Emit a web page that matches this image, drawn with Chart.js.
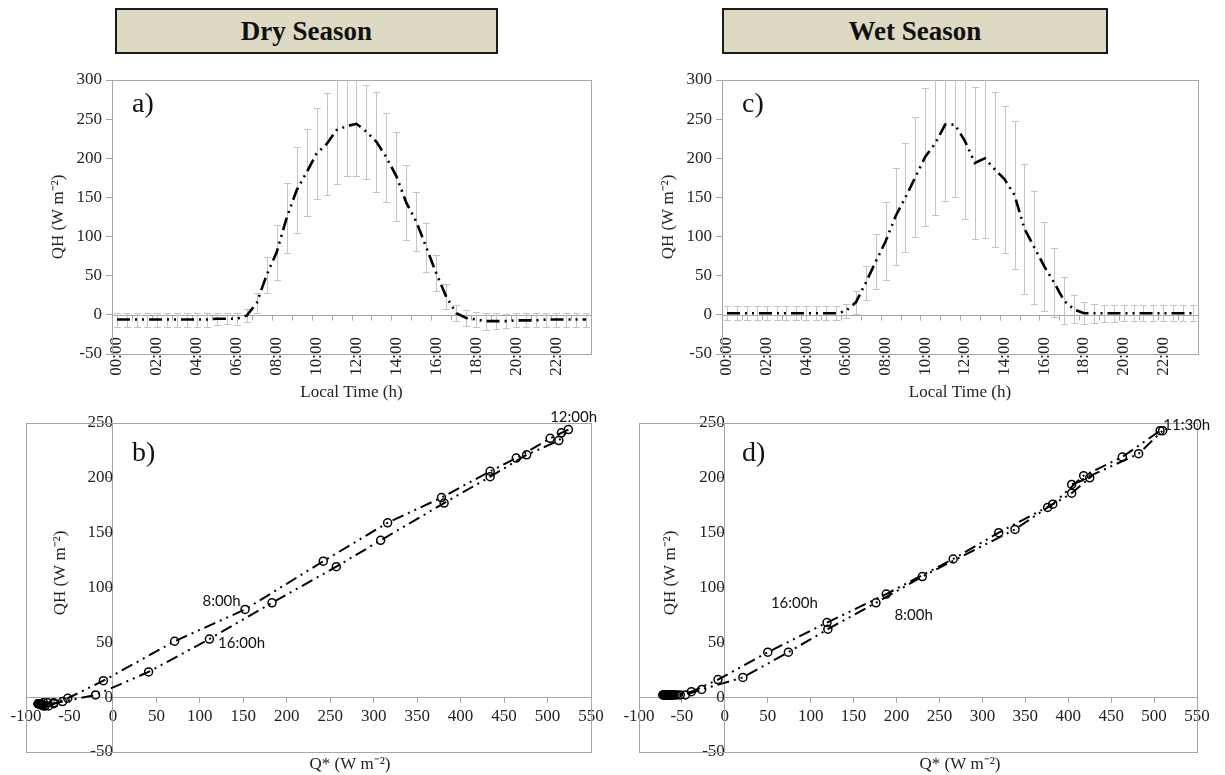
<!DOCTYPE html>
<html>
<head>
<meta charset="utf-8">
<script src="https://cdn.jsdelivr.net/npm/chart.js@4.4.1/dist/chart.umd.min.js"></script>
<style>
body{margin:0;background:#fff;width:1225px;height:775px;position:relative;overflow:hidden}
canvas{position:absolute}
.head{position:absolute;top:8px;height:46px;box-sizing:border-box;border:2px solid #1a1a1a;background:#ddd9c3;
  font:bold 27px "Liberation Serif",serif;text-align:center;line-height:42px;color:#111}
</style>
</head>
<body>
<div class="head" style="left:115px;width:383px">Dry Season</div>
<div class="head" style="left:722px;width:386px">Wet Season</div>
<canvas id="ca" width="610" height="345" style="left:0;top:60px"></canvas>
<canvas id="cc" width="615" height="345" style="left:610px;top:60px"></canvas>
<canvas id="cb" width="610" height="370" style="left:0;top:405px"></canvas>
<canvas id="cd" width="615" height="370" style="left:610px;top:405px"></canvas>
<script>
var times = ['00:00','00:30','01:00','01:30','02:00','02:30','03:00','03:30','04:00','04:30','05:00','05:30',
  '06:00','06:30','07:00','07:30','08:00','08:30','09:00','09:30','10:00','10:30','11:00','11:30',
  '12:00','12:30','13:00','13:30','14:00','14:30','15:00','15:30','16:00','16:30','17:00','17:30',
  '18:00','18:30','19:00','19:30','20:00','20:30','21:00','21:30','22:00','22:30','23:00','23:30'];

// dry season: mean QH, its standard deviation, and net radiation Q*
var dryQH = [-6,-6,-6,-6,-6,-6,-6,-6,-6,-6,-5,-5,-5,-1,15,51,80,124,159,182,206,218,236,241,
  244,234,221,201,177,143,119,86,53,23,2,-4,-6,-8,-8,-8,-7,-7,-7,-6,-6,-6,-6,-6];
var drySD = [9,9,9,9,9,9,9,9,9,9,8,7,8,8,13,23,35,45,55,56,58,65,69,64,
  66,60,64,57,57,48,38,31,23,16,10,10,10,11,10,9,9,9,9,9,9,9,9,9];
var dryQstar = [-84,-85,-85,-86,-86,-86,-85,-85,-84,-83,-80,-75,-68,-52,-11,71,152,242,316,378,434,464,503,516,
  524,513,476,434,381,308,257,183,111,41,-20,-58,-68,-74,-78,-80,-81,-82,-83,-83,-84,-84,-84,-84];

// wet season
var wetQH = [2,2,2,2,2,2,2,2,2,2,2,2,5,16,41,68,94,126,150,176,202,219,243,243,
  222,194,200,186,173,153,110,86,62,41,18,7,2,2,2,2,2,2,2,2,2,2,2,2];
var wetSD = [9,9,9,9,9,9,9,9,9,9,9,9,9,15,22,35,50,62,70,77,88,91,97,93,
  100,97,102,99,94,94,83,72,57,44,30,18,14,12,11,11,10,10,10,10,10,10,10,10];
var wetQstar = [-66,-67,-68,-68,-69,-70,-70,-71,-71,-72,-72,-64,-39,-8,50,119,188,266,319,382,418,463,507,510,
  482,404,425,404,376,338,230,176,120,74,21,-27,-46,-52,-56,-58,-60,-61,-62,-63,-64,-64,-65,-65];

// time notes on the scatter panels: [text, Q*, QH]
var dryNotes = [['12:00h',530,255],['8:00h',125,88],['16:00h',148,49]];
var wetNotes = [['11:30h',538,248],['16:00h',81,86],['8:00h',220,75]];

Chart.defaults.font.family = '"Liberation Serif", serif';
Chart.defaults.color = '#222';
var axisGrey = '#a6a6a6';

var boxPlugin = {
  id: 'box',
  beforeDatasetsDraw: function(chart){
    var a = chart.chartArea, c = chart.ctx;
    c.save();
    c.strokeStyle = axisGrey; c.lineWidth = 1;
    c.strokeRect(Math.round(a.left)+0.5, Math.round(a.top)+0.5, Math.round(a.width), Math.round(a.height));
    c.restore();
  }
};

var zeroPlugin = {
  id: 'zero',
  beforeDatasetsDraw: function(chart){
    var a = chart.chartArea, c = chart.ctx, xs = chart.scales.x;
    var y0 = Math.round(chart.scales.y.getPixelForValue(0)) + 0.5;
    c.save();
    c.strokeStyle = axisGrey; c.lineWidth = 1;
    c.beginPath();
    c.moveTo(a.left, y0); c.lineTo(a.right, y0);
    for (var k = 2; k < times.length; k += 2) {
      var x = Math.round(xs.getPixelForValue(k - 0.5)) + 0.5;
      c.moveTo(x, y0); c.lineTo(x, y0 + 5);
    }
    c.stroke();
    c.restore();
  }
};

var errPlugin = {
  id: 'err',
  beforeDatasetsDraw: function(chart){
    var c = chart.ctx, a = chart.chartArea, ys = chart.scales.y;
    chart.data.datasets.forEach(function(ds, di){
      if (!ds.errs) return;
      var meta = chart.getDatasetMeta(di);
      c.save();
      c.beginPath(); c.rect(a.left, a.top, a.width, a.height); c.clip();
      c.strokeStyle = '#c4c4c4'; c.lineWidth = 1;
      c.beginPath();
      meta.data.forEach(function(pt, i){
        var x = Math.round(pt.x) + 0.5;
        var t = Math.round(ys.getPixelForValue(ds.data[i] + ds.errs[i])) + 0.5;
        var b = Math.round(ys.getPixelForValue(ds.data[i] - ds.errs[i])) + 0.5;
        c.moveTo(x, t); c.lineTo(x, b);
        c.moveTo(x - 3.5, t); c.lineTo(x + 3.5, t);
        c.moveTo(x - 3.5, b); c.lineTo(x + 3.5, b);
      });
      c.stroke();
      c.restore();
    });
  }
};

// panel letter, time notes and hand-placed axis titles
function textPlugin(letter, letterY, notes, titles){
  return {
    id: 'texts',
    afterDraw: function(chart){
      var c = chart.ctx, xs = chart.scales.x, ys = chart.scales.y, a = chart.chartArea;
      c.save();
      c.fillStyle = '#111';
      c.font = '28px "Liberation Serif", serif';
      c.textAlign = 'left'; c.textBaseline = 'top';
      c.fillText(letter, 132, letterY);
      c.font = '15px Lato, sans-serif';
      c.textAlign = 'center'; c.textBaseline = 'middle';
      notes.forEach(function(n){
        c.fillText(n[0], xs.getPixelForValue(n[1]), ys.getPixelForValue(n[2]));
      });
      c.fillStyle = '#222';
      c.font = '17px "Liberation Serif", serif';
      if (titles.x) {
        var tx = titles.x[0] === null ? (a.left + a.right) / 2 : titles.x[0];
        c.fillText(titles.x[2], tx, titles.x[1]);
      }
      if (titles.y) {
        c.translate(titles.y[0], titles.y[1]);
        c.rotate(-Math.PI / 2);
        c.fillText(titles.y[2], 0, 0);
      }
      c.restore();
    }
  };
}

var tickFont = {family: '"Liberation Serif", serif', size: 17};

function timeChart(id, qh, sd, letter, padRight){
  return new Chart(document.getElementById(id), {
    type: 'line',
    data: {
      labels: times,
      datasets: [{
        data: qh, errs: sd,
        borderColor: '#000', borderWidth: 2.6,
        borderDash: [13, 5, 2, 5, 2, 5],
        pointRadius: 0, tension: 0, fill: false
      }]
    },
    options: {
      responsive: false, animation: false, devicePixelRatio: 1,
      layout: {padding: {left: 48, right: padRight, top: 20, bottom: 51}},
      plugins: {legend: {display: false}, tooltip: {enabled: false}},
      scales: {
        x: {
          offset: true, position: {y: -50},
          grid: {display: false, drawTicks: false},
          border: {display: false},
          ticks: {
            autoSkip: false, maxRotation: 90, minRotation: 90, padding: -17,
            font: tickFont, color: '#222',
            callback: function(v, i){ return i % 4 === 0 ? times[i] : null; }
          }
        },
        y: {
          min: -50, max: 300,
          ticks: {stepSize: 50, font: tickFont, color: '#222', padding: 4},
          grid: {drawOnChartArea: false, tickLength: 6, tickColor: axisGrey},
          border: {display: false},
          title: {display: true, text: 'QH (W m\u207B\u00B2)', font: {size: 17}, color: '#222', padding: {top: 0, bottom: 0}},
          afterFit: function(s){ s.width = 64; }
        }
      }
    },
    plugins: [boxPlugin, zeroPlugin, errPlugin,
      textPlugin(letter, 31, [], {x: [null, 333, 'Local Time (h)']})]
  });
}

function scatterChart(id, qstar, qh, letter, notes, padLeft, padRight){
  var pts = qstar.map(function(q, i){ return {x: q, y: qh[i]}; });
  return new Chart(document.getElementById(id), {
    type: 'scatter',
    data: {
      datasets: [{
        data: pts, showLine: true,
        borderColor: '#000', borderWidth: 2,
        borderDash: [12, 5, 2, 5, 2, 5],
        pointRadius: 4, pointBorderWidth: 1.5,
        pointBorderColor: '#000', pointBackgroundColor: 'rgba(255,255,255,0)',
        tension: 0
      }]
    },
    options: {
      responsive: false, animation: false, devicePixelRatio: 1,
      layout: {padding: {left: padLeft, right: padRight, top: 18, bottom: 23}},
      plugins: {legend: {display: false}, tooltip: {enabled: false}},
      scales: {
        x: {
          type: 'linear', min: -100, max: 550, position: {y: 0},
          ticks: {stepSize: 50, font: tickFont, color: '#222', padding: 4},
          grid: {drawOnChartArea: false, tickLength: 5, tickColor: axisGrey},
          border: {color: axisGrey}
        },
        y: {
          type: 'linear', min: -50, max: 250, position: {x: 0},
          ticks: {stepSize: 50, font: tickFont, color: '#222', padding: 4},
          grid: {drawOnChartArea: false, tickLength: 5, tickColor: axisGrey},
          border: {color: axisGrey}
        }
      }
    },
    plugins: [boxPlugin, textPlugin(letter, 35, notes,
      {x: [350, 360, 'Q* (W m\u207B\u00B2)'], y: [61, 168, 'QH (W m\u207B\u00B2)']})]
  });
}

timeChart('ca', dryQH, drySD, 'a)', 19);
timeChart('cc', wetQH, wetSD, 'c)', 27);
scatterChart('cb', dryQstar, dryQH, 'b)', dryNotes, 26, 19);
scatterChart('cd', wetQstar, wetQH, 'd)', wetNotes, 29, 28);
</script>
</body>
</html>
